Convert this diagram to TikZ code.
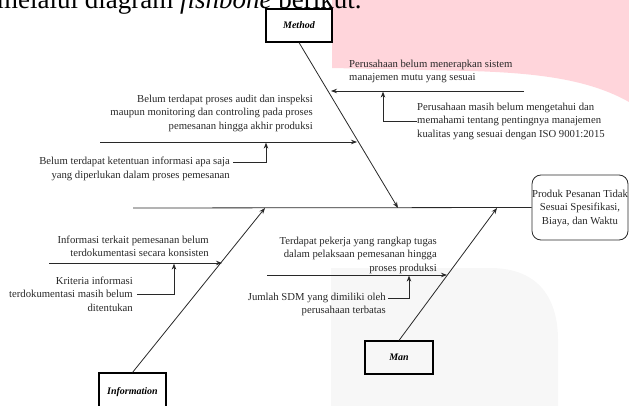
\documentclass[tikz,border=0pt]{standalone}
\usepackage{fontspec}
\setmainfont{Liberation Serif}
\usetikzlibrary{arrows.meta}
\definecolor{wmpink}{RGB}{255,213,219}
\definecolor{wmgrey}{RGB}{247,247,247}
\definecolor{ink}{RGB}{40,40,40}
\tikzset{
  lbl/.style={font=\fontsize{10.7}{13.5}\selectfont, inner sep=0pt, text=ink},
  catbox/.style={draw=black, line width=1.1pt, font=\fontsize{10}{12}\selectfont\bfseries\itshape, inner sep=0pt},
  bone/.style={draw=ink, line width=0.8pt},
  arr/.style={bone, -{Stealth[length=6pt,width=4.5pt]}},
}
\begin{document}
\begin{tikzpicture}[x=1pt,y=-1pt]
\useasboundingbox (0,0) rectangle (629,406);
\clip (0,0) rectangle (629,406);
% page background marks
\fill[wmpink] (332,0) -- (629,0) -- (629,102) .. controls (590,80) and (540,73) .. (470,71) -- (332,68) -- cycle;
\fill[wmgrey] (331,406) -- (331,268) -- (490,268) .. controls (540,268) and (558,300) .. (558,340) -- (558,406) -- cycle;
\node[anchor=base west, inner sep=0pt, font=\fontsize{27}{30}\selectfont] (head) at (-3,9) {melalui diagram \textit{fishbone} berikut.};
% category boxes and effect
\node[catbox, fill=white, minimum width=66pt, minimum height=33pt] (mbox) at (299,25.5) {Method};
\node[catbox, minimum width=68pt, minimum height=33pt] (manbox) at (399,357.5) {Man};
\node[catbox, minimum width=67pt, minimum height=40pt] (ibox) at (132.5,393) {};
\node[font=\fontsize{10}{12}\selectfont\bfseries\itshape, inner sep=0pt] (itext) at (132.5,392) {Information};
\node[draw=ink, line width=0.8pt, rounded corners=9pt, minimum width=96pt, minimum height=65pt, inner sep=0pt] (prod) at (580,207.5) {};
\node[lbl, align=center] (prodtext) at (580,208) {Produk Pesanan Tidak\\Sesuai Spesifikasi,\\Biaya, dan Waktu};
% spine
\coordinate (head0) at (133,208);
\draw[bone] (head0) -- (prod.west);
% bone end points on the spine
\coordinate (mS) at (398,208);
\coordinate (iS) at (265,208);
\coordinate (manS) at (497,208);
\draw[arr] (mbox.south) -- (mS);
\draw[arr] (ibox.north) -- (iS);
\draw[arr] (manbox.north) -- (manS);
% Method branches
\coordinate (m1a) at (524,91);
\coordinate (m1b) at (331,91);
\draw[arr] (m1a) -- (m1b);
\node[lbl, anchor=west, align=left] (m1t) at (349,71.5) {Perusahaan belum menerapkan sistem\\manajemen mutu yang sesuai};
\node[lbl, anchor=west, align=left] (m1s) at (417,121) {Perusahaan masih belum mengetahui dan\\memahami tentang pentingnya manajemen\\kualitas yang sesuai dengan ISO 9001:2015};
\coordinate (m1k) at (383,121);
\coordinate (m1u) at (383,91.6);
\draw[arr] (m1s.west) -- (m1k) -- (m1u);
\coordinate (m2a) at (100,142);
\coordinate (m2b) at (357,142);
\draw[arr] (m2a) -- (m2b);
\node[lbl, anchor=east, align=right] (m2t) at (313,113) {Belum terdapat proses audit dan inspeksi\\maupun monitoring dan controling pada proses\\pemesanan hingga akhir produksi};
\node[lbl, anchor=north east, align=right] (m2s) at (230,157) {Belum terdapat ketentuan informasi apa saja\\yang diperlukan dalam proses pemesanan};
\coordinate (m2l) at (233,162);
\coordinate (m2k) at (266,162);
\coordinate (m2u) at (266,142.6);
\draw[arr] (m2l) -- (m2k) -- (m2u);
% Information branches
\coordinate (i1a) at (49,263);
\coordinate (i1b) at (222,263);
\draw[arr] (i1a) -- (i1b);
\node[lbl, anchor=east, align=right] (i1t) at (209,246.5) {Informasi terkait pemesanan belum\\terdokumentasi secara konsisten};
\node[lbl, anchor=east, align=right] (i1s) at (133,294) {Kriteria informasi\\terdokumentasi masih belum\\ditentukan};
\coordinate (i1l) at (137,294);
\coordinate (i1k) at (174,294);
\coordinate (i1u) at (174,263.6);
\draw[arr] (i1l) -- (i1k) -- (i1u);
% Man branches
\coordinate (n1a) at (267,275);
\coordinate (n1b) at (447,275);
\draw[arr] (n1a) -- (n1b);
\node[lbl, anchor=east, align=right] (n1t) at (437,255) {Terdapat pekerja yang rangkap tugas\\dalam pelaksaan pemesanan hingga\\proses produksi};
\node[lbl, anchor=north east, align=right] (n1s) at (386,292.5) {Jumlah SDM yang dimiliki oleh\\perusahaan terbatas};
\coordinate (n1l) at (388,298);
\coordinate (n1k) at (409,298);
\coordinate (n1u) at (409,275.6);
\draw[arr] (n1l) -- (n1k) -- (n1u);
\end{tikzpicture}
\end{document}
